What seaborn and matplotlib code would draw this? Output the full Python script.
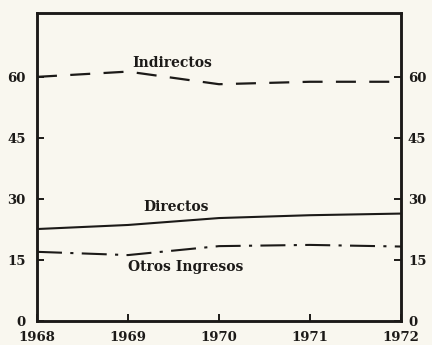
import matplotlib
matplotlib.use("Agg")
import matplotlib.pyplot as plt
import seaborn as sns
import pandas as pd

years = [1968, 1969, 1970, 1971, 1972]
indirectos = [60.0, 61.3, 58.2, 58.8, 58.8]
directos = [22.6, 23.6, 25.3, 26.0, 26.4]
otros_ingresos = [17.0, 16.2, 18.4, 18.7, 18.3]
y_ticks = [0, 15, 30, 45, 60]

sns.set_theme(style="white")
plt.rcParams["font.family"] = ["DejaVu Serif"]

paper = "#f9f7ef"
ink = "#1c1a18"

fig = plt.figure(figsize=(4.32, 3.45), dpi=100, facecolor=paper)
ax = fig.add_axes([0.0856, 0.0696, 0.8426, 0.8927])
ax.set_facecolor(paper)

df = pd.DataFrame({"year": years, "Indirectos": indirectos,
                   "Directos": directos, "Otros Ingresos": otros_ingresos})

sns.lineplot(data=df, x="year", y="Indirectos", ax=ax, color=ink, lw=1.6,
             linestyle=(0, (9, 6)))
sns.lineplot(data=df, x="year", y="Directos", ax=ax, color=ink, lw=1.5)
sns.lineplot(data=df, x="year", y="Otros Ingresos", ax=ax, color=ink, lw=1.5,
             linestyle=(0, (12, 4, 1.5, 4)))

ax.set_xlim(1968, 1972)
ax.set_ylim(0, 75.7)
ax.set_xticks(years)
ax.set_xticklabels([str(y) for y in years])
ax.set_yticks(y_ticks)
ax.set_yticklabels([str(v) for v in y_ticks])
ax.set_xlabel("")
ax.set_ylabel("")

# duplicate scale on the right-hand side
ax_r = ax.twinx()
ax_r.set_ylim(ax.get_ylim())
ax_r.set_yticks(y_ticks)
ax_r.set_yticklabels([str(v) for v in y_ticks])
ax_r.grid(False)

for a in (ax, ax_r):
    for s in a.spines.values():
        s.set_visible(True)
        s.set_color(ink)
        s.set_linewidth(1.8)

ax.tick_params(axis="y", direction="in", length=5, width=1.4, colors=ink,
               left=True, right=False, labelsize=9.5, pad=8)
ax_r.tick_params(axis="y", direction="in", length=5, width=1.4, colors=ink,
                 right=True, left=False, labelsize=9.5, pad=5)
ax.tick_params(axis="x", direction="in", length=5, width=1.4, colors=ink,
               bottom=True, labelsize=9.5, pad=7)
for lab in ax.get_yticklabels() + ax.get_xticklabels() + ax_r.get_yticklabels():
    lab.set_fontweight("bold")
ax.grid(False)

txt = dict(color=ink, fontsize=10, fontweight="bold", ha="center", va="center")
ax.text(1969.49, 63.4, "Indirectos", **txt)
ax.text(1969.53, 28.0, "Directos", **txt)
ax.text(1969.63, 13.3, "Otros Ingresos", **txt)

fig.savefig("out.png", dpi=100, facecolor=paper)
